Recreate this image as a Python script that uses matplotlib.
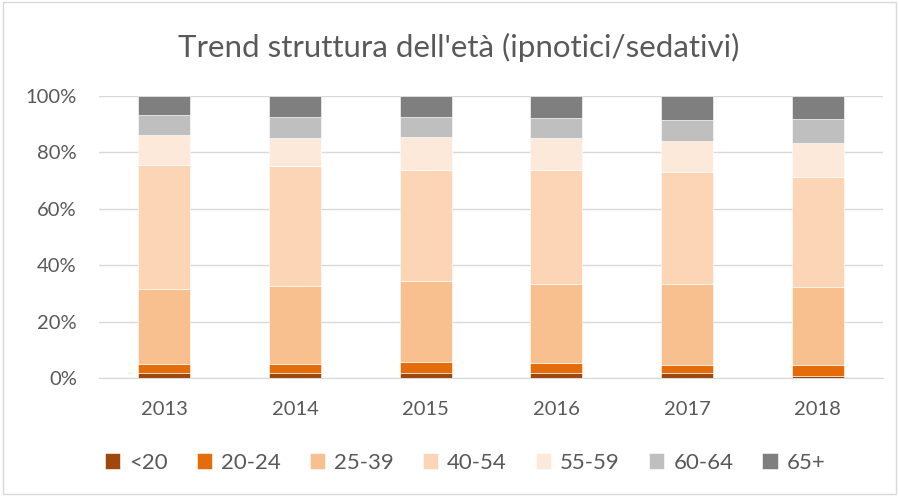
import matplotlib
matplotlib.use("Agg")
import matplotlib.pyplot as plt
import numpy as np
from matplotlib.patches import Rectangle

years = ["2013", "2014", "2015", "2016", "2017", "2018"]
groups = ["<20", "20-24", "25-39", "40-54", "55-59", "60-64", "65+"]

# share of each age group (%)
lt20 = [1.7, 1.7, 1.7, 2.0, 1.7, 0.9]
g20_24 = [3.5, 3.2, 4.0, 3.5, 3.0, 3.7]
g25_39 = [26.5, 27.6, 28.8, 27.9, 28.5, 27.8]
g40_54 = [43.8, 42.6, 39.3, 40.2, 39.9, 38.9]
g55_59 = [10.7, 10.1, 11.7, 11.3, 11.0, 12.1]
g60_64 = [7.0, 7.4, 6.8, 7.3, 7.2, 8.2]
g65 = [6.8, 7.4, 7.7, 7.8, 8.7, 8.4]

series = [lt20, g20_24, g25_39, g40_54, g55_59, g60_64, g65]
colors = ["#9E480E", "#E46C0A", "#F8BF8F", "#FBD5B5", "#FDE9D9", "#BFBFBF", "#7F7F7F"]

plt.rcParams["font.family"] = ["Lato", "DejaVu Sans"]

fig = plt.figure(figsize=(8.99, 4.96), dpi=100)
ax = fig.add_axes([99 / 899, 1 - 378.3 / 496, 784 / 899, (378.3 - 95.7) / 496])

x = np.arange(len(years))
bottom = np.zeros(len(years))
for name, vals, c in zip(groups, series, colors):
    vals = np.array(vals)
    ax.bar(x, vals, 0.4, bottom=bottom, color=c, label=name,
           edgecolor="white", linewidth=0.4, zorder=3)
    bottom += vals

ax.set_xlim(-0.5, len(years) - 0.5)
ax.set_ylim(0, 100)
ax.set_yticks(range(0, 101, 20))
ax.set_yticklabels([f"{v}%" for v in range(0, 101, 20)])
ax.set_xticks(x)
ax.set_xticklabels(years)
ax.tick_params(length=0, labelsize=14.5, colors="#595959")
ax.tick_params(axis="y", pad=16)
ax.tick_params(axis="x", pad=16)
ax.yaxis.grid(True, color="#D9D9D9", linewidth=1, zorder=0)
for s in ["top", "right", "left"]:
    ax.spines[s].set_visible(False)
ax.spines["bottom"].set_color("#D9D9D9")

fig.text(459 / 899, 1 - 47 / 496, "Trend struttura dell'età (ipnotici/sedativi)",
         ha="center", va="center", fontsize=22.5, color="#595959")

fig.legend(loc="center", bbox_to_anchor=(465 / 899, 1 - 463 / 496), ncol=7, frameon=False,
           fontsize=16, handlelength=0.7, handleheight=0.7, handletextpad=0.4,
           columnspacing=1.3, labelcolor="#595959")

fig.patches.append(Rectangle((0.003, 0.004), 0.994, 0.992, transform=fig.transFigure,
                             fill=False, edgecolor="#D9D9D9", linewidth=1))

fig.savefig("out.png", dpi=100)
